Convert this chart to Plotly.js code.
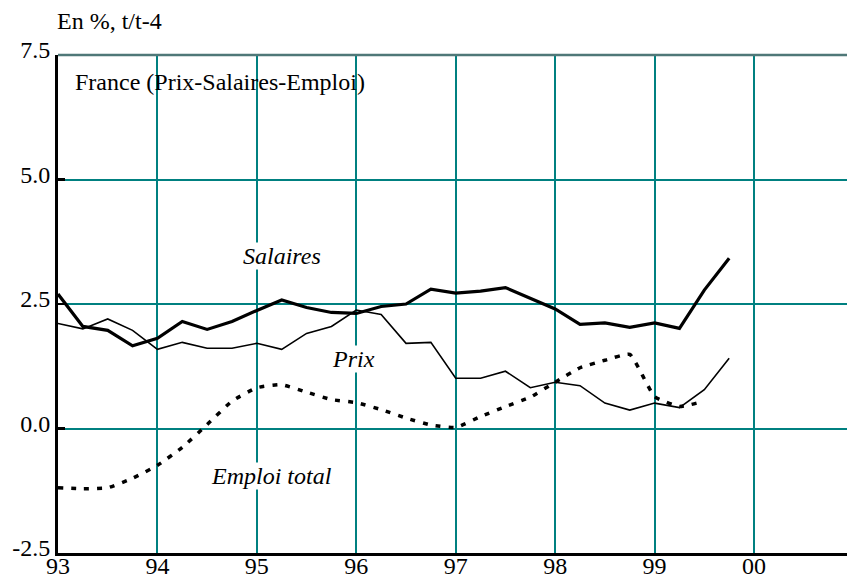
<!DOCTYPE html>
<html>
<head>
<meta charset="utf-8">
<script src="https://cdn.plot.ly/plotly-3.0.1.min.js"></script>
<style>html,body{margin:0;padding:0;background:#fff;}#chart{width:847px;height:578px;}</style>
</head>
<body>
<div id="chart"></div>
<script>
var quarters = [1993, 1993.25, 1993.5, 1993.75, 1994, 1994.25, 1994.5, 1994.75,
  1995, 1995.25, 1995.5, 1995.75, 1996, 1996.25, 1996.5, 1996.75,
  1997, 1997.25, 1997.5, 1997.75, 1998, 1998.25, 1998.5, 1998.75,
  1999, 1999.25, 1999.5, 1999.75];
var salaires = [2.70, 2.05, 1.97, 1.66, 1.81, 2.15, 1.99, 2.15,
  2.37, 2.58, 2.43, 2.33, 2.31, 2.45, 2.50, 2.80,
  2.72, 2.76, 2.83, 2.62, 2.40, 2.09, 2.12, 2.03,
  2.12, 2.01, 2.78, 3.42];
var prix = [2.11, 2.00, 2.20, 1.97, 1.59, 1.73, 1.61, 1.61,
  1.71, 1.59, 1.91, 2.05, 2.38, 2.29, 1.71, 1.73,
  1.01, 1.01, 1.15, 0.82, 0.93, 0.86, 0.51, 0.37,
  0.51, 0.42, 0.78, 1.41];
var emploi = [-1.19, -1.21, -1.19, -1.00, -0.74, -0.38, 0.08, 0.55,
  0.82, 0.88, 0.73, 0.58, 0.52, 0.38, 0.21, 0.07,
  0.02, 0.24, 0.44, 0.63, 0.93, 1.22, 1.37, 1.49,
  0.64, 0.44, 0.55];
var yearTicks = [1993, 1994, 1995, 1996, 1997, 1998, 1999, 2000];
var yearLabels = ['93', '94', '95', '96', '97', '98', '99', '00'];
var yTicks = [-2.5, 0, 2.5, 5, 7.5];
var yLabels = ['-2.5', '0.0', '2.5', '5.0', '7.5'];
var seriesLabels = ['Salaires', 'Prix', 'Emploi total'];

var serif = '"Liberation Serif", "Times New Roman", Times, serif';
var teal = '#008080';

var traces = [
  {x: quarters, y: salaires, mode: 'lines', name: seriesLabels[0],
   line: {color: '#000', width: 3.2}},
  {x: quarters, y: prix, mode: 'lines', name: seriesLabels[1],
   line: {color: '#000', width: 1.6}},
  {x: quarters.slice(0, emploi.length), y: emploi, mode: 'lines', name: seriesLabels[2],
   line: {color: '#000', width: 3.5, dash: '5px,8px', shape: 'spline', smoothing: 0.4}}
];

var layout = {
  width: 847, height: 578,
  margin: {l: 58, r: 0, t: 55, b: 25},
  paper_bgcolor: '#fff', plot_bgcolor: '#fff',
  showlegend: false,
  font: {family: serif, color: '#000', size: 24},
  xaxis: {
    range: [1993, 2000.935],
    tickvals: yearTicks, ticktext: yearLabels,
    showgrid: true, gridcolor: teal, gridwidth: 2,
    zeroline: false,
    showline: true, linecolor: '#000', linewidth: 3,
    ticks: '',
    tickfont: {family: serif, size: 24, color: '#000'},
    ticklabelstandoff: -11,
    fixedrange: true
  },
  yaxis: {
    range: [-2.5, 7.5],
    tickvals: yTicks, ticktext: yLabels,
    showgrid: true, gridcolor: teal, gridwidth: 2,
    zeroline: false,
    showline: true, linecolor: '#000', linewidth: 3,
    ticks: 'inside', ticklen: 7, tickwidth: 2.5, tickcolor: '#000',
    tickfont: {family: serif, size: 24, color: '#000'},
    ticklabelshift: -5,
    fixedrange: true
  },
  shapes: [
    {type: 'line', xref: 'paper', yref: 'paper', x0: 0, x1: 1, y0: 1, y1: 1,
     line: {color: '#4f7878', width: 2.5}, layer: 'above'}
  ],
  annotations: [
    {text: 'En %, t/t-4', xref: 'paper', yref: 'paper', x: -0.004, y: 1.068,
     xanchor: 'left', yanchor: 'middle', showarrow: false,
     font: {family: serif, size: 24, color: '#000'}},
    {text: 'France (Prix-Salaires-Emploi)', xref: 'x', yref: 'y', x: 1993.151, y: 6.958,
     xanchor: 'left', yanchor: 'middle', showarrow: false,
     font: {family: serif, size: 24, color: '#000'}},
    {text: '<i>' + seriesLabels[0] + '</i>', xref: 'x', yref: 'y', x: 1995.248, y: 3.47,
     xanchor: 'center', yanchor: 'middle', showarrow: false, bgcolor: '#fff', borderpad: 0,
     font: {family: serif, size: 24, color: '#000'}},
    {text: '<i>' + seriesLabels[1] + '</i>', xref: 'x', yref: 'y', x: 1995.972, y: 1.39,
     xanchor: 'center', yanchor: 'middle', showarrow: false, bgcolor: '#fff', borderpad: 0,
     font: {family: serif, size: 24, color: '#000'}},
    {text: '<i>' + seriesLabels[2] + '</i>', xref: 'x', yref: 'y', x: 1995.147, y: -0.945,
     xanchor: 'center', yanchor: 'middle', showarrow: false, bgcolor: '#fff', borderpad: 0,
     font: {family: serif, size: 24, color: '#000'}}
  ]
};

Plotly.newPlot('chart', traces, layout, {staticPlot: true, displayModeBar: false});
</script>
</body>
</html>
